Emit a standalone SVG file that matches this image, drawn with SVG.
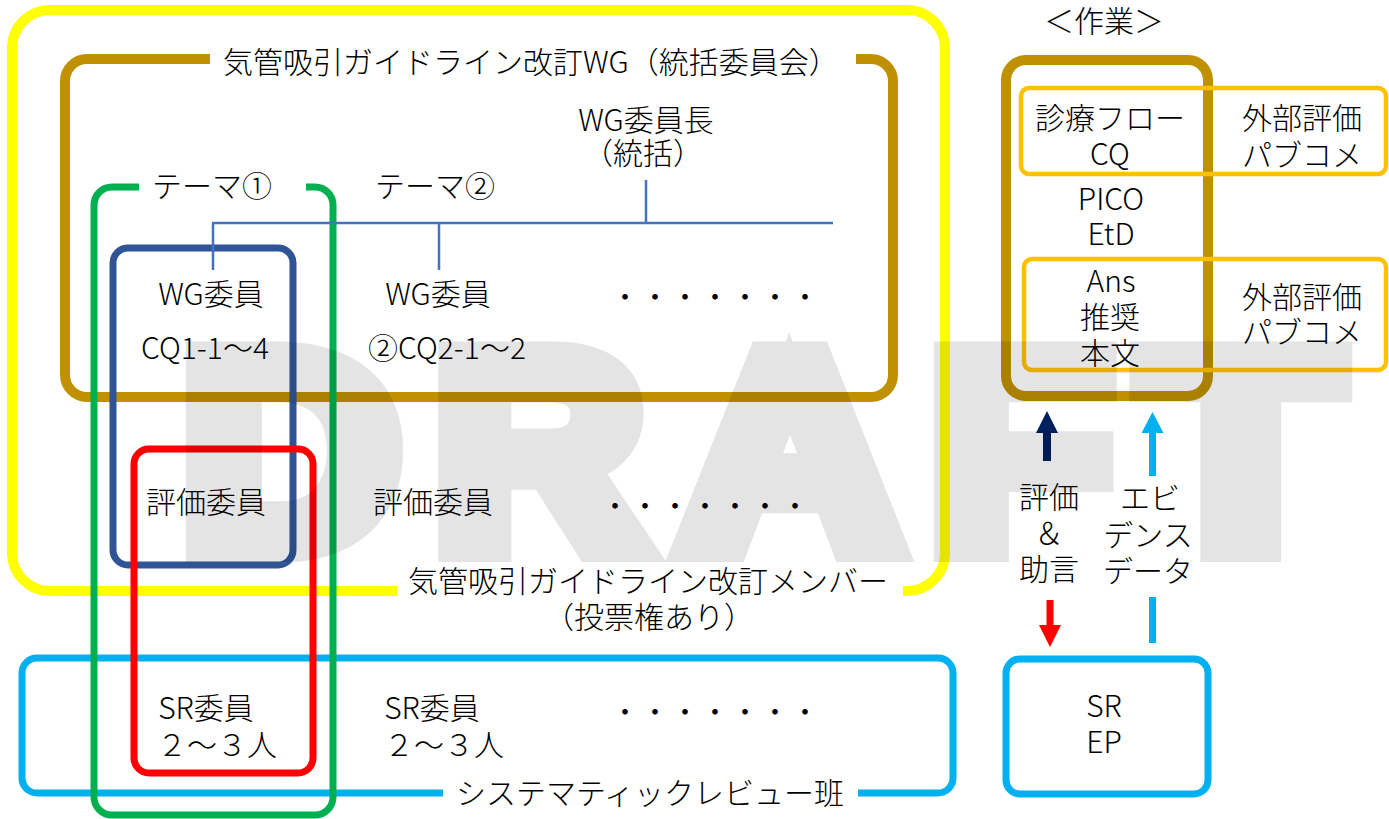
<svg xmlns="http://www.w3.org/2000/svg" width="1389" height="819" viewBox="0 0 1389 819">
<style>
.f{fill:none;stroke-linejoin:round}
.y{stroke:#ffff00;stroke-width:10}
.g{stroke:#bf9000;stroke-width:10}
.gr{stroke:#00b050;stroke-width:7}
.db{stroke:#2f5597;stroke-width:7}
.rd{stroke:#ff0000;stroke-width:7}
.lb{stroke:#00b0f0;stroke-width:7}
.or{stroke:#ffc000;stroke-width:4.5}
.ln{stroke:#4472c4;stroke-width:2.5;fill:none}
text{font-family:'Noto Sans CJK JP','Noto Sans',sans-serif;font-size:30px;fill:#000;font-weight:300}
.m{text-anchor:middle}
.wm{font-family:'Liberation Sans',Arial,sans-serif;font-weight:700;font-size:277px;fill:#000;stroke:#000;stroke-width:30;stroke-linejoin:miter}
</style>
<rect width="1389" height="819" fill="#fff"/>

<g id="members">
<path class="f y" d="M397,591 H50 A38,38 0 0 1 12,553 V48 A38,38 0 0 1 50,10 H907 A38,38 0 0 1 945,48 V553 A38,38 0 0 1 907,591 H903"/>
</g>
<g id="wg">
<path class="f g" d="M210,59 H87 A22,22 0 0 0 65,81 V375 A22,22 0 0 0 87,397 H871 A22,22 0 0 0 893,375 V81 A22,22 0 0 0 871,59 H856"/>
</g>
<g id="sr-team">
<path class="f lb" d="M443,793 H37 A15,15 0 0 1 22,778 V673 A15,15 0 0 1 37,658 H938 A15,15 0 0 1 953,673 V778 A15,15 0 0 1 938,793 H858"/>
</g>
<g id="theme1">
<path class="f gr" d="M139,187 H112 A18,18 0 0 0 94,205 V797 A18,18 0 0 0 112,815 H315 A18,18 0 0 0 333,797 V205 A18,18 0 0 0 315,187 H306"/>
</g>
<g id="wg-member1">
<rect class="f db" x="113" y="248" width="180" height="317" rx="15"/>
</g>
<g id="eval-sr1">
<rect class="f rd" x="134" y="449" width="179" height="324" rx="15"/>
</g>
<g id="work">
<rect class="f g" x="1006" y="60" width="202" height="336" rx="20"/>
</g>
<g id="ext1">
<rect class="f or" x="1021" y="88" width="365" height="86" rx="8"/>
</g>
<g id="ext2">
<rect class="f or" x="1024" y="259" width="362" height="111" rx="8"/>
</g>
<g id="srep">
<rect class="f lb" x="1006" y="659" width="202" height="135" rx="14"/>
</g>

<g id="connectors">
<path class="ln" d="M646,180 V223 M212,223 H833 M213,223 V270 M439,223 V270"/>
<path fill="#002060" d="M1043,461 V433 H1036 L1047,411 L1058,433 H1051 V461 Z"/>
<path fill="#00b0f0" d="M1149,476 V433 H1141.5 L1152.5,412 L1163.5,433 H1156 V476 Z"/>
<rect x="1149" y="597" width="7" height="46" fill="#00b0f0"/>
<path fill="#ff0000" d="M1046.5,600 V625 H1039 L1050,647 L1061,625 H1053.5 V600 Z"/>
</g>

<g id="watermark" opacity="0.1">
<text class="wm" transform="translate(182,547) scale(1.087,1)">D</text>
<text class="wm" transform="translate(434.5,547) scale(1.046,1)">R</text>
<text class="wm" transform="translate(681,547) scale(1.09,1)">A</text>
<text class="wm" transform="translate(930,547) scale(1.073,1)">F</text>
<text class="wm" transform="translate(1143,547) scale(1.155,1)">T</text>
</g>

<g id="labels">
<text class="m" x="1104" y="32">＜作業＞</text>
<text x="223" y="73">気管吸引ガイドライン改訂WG（統括委員会）</text>
<text class="m" x="646" y="131">WG委員長</text>
<text class="m" x="643" y="164">（統括）</text>
<text class="m" x="212" y="197">テーマ①</text>
<text class="m" x="435" y="197">テーマ②</text>
<text class="m" x="211" y="305">WG委員</text>
<text class="m" x="438" y="305">WG委員</text>
<text class="m" x="205" y="359">CQ1-1～4</text>
<text class="m" x="447" y="359">②CQ2-1～2</text>
<text x="610" y="308">・・・・・・・</text>
<text class="m" x="206" y="513">評価委員</text>
<text class="m" x="433" y="513">評価委員</text>
<text x="600" y="517">・・・・・・・</text>
<text class="m" x="648" y="592">気管吸引ガイドライン改訂メンバー</text>
<text class="m" x="649" y="628">（投票権あり）</text>
<text class="m" x="206" y="719">SR委員</text>
<text class="m" x="217" y="756">２～３人</text>
<text class="m" x="432" y="719">SR委員</text>
<text class="m" x="444" y="756">２～３人</text>
<text x="610" y="723">・・・・・・・</text>
<text class="m" x="650" y="804">システマティックレビュー班</text>
<text class="m" x="1110" y="129">診療フロー</text>
<text class="m" x="1110" y="165">CQ</text>
<text class="m" x="1302" y="129">外部評価</text>
<text class="m" x="1302" y="166">パブコメ</text>
<text class="m" x="1111" y="210">PICO</text>
<text class="m" x="1111" y="245">EtD</text>
<text class="m" x="1111" y="292">Ans</text>
<text class="m" x="1110" y="328">推奨</text>
<text class="m" x="1110" y="364">本文</text>
<text class="m" x="1302" y="308">外部評価</text>
<text class="m" x="1302" y="343">パブコメ</text>
<text class="m" x="1049" y="508">評価</text>
<text class="m" x="1049" y="544">＆</text>
<text class="m" x="1049" y="580">助言</text>
<text class="m" x="1150" y="509">エビ</text>
<text class="m" x="1148" y="546">デンス</text>
<text class="m" x="1148" y="582">データ</text>
<text class="m" x="1104" y="717">SR</text>
<text class="m" x="1104" y="753">EP</text>
</g>
</svg>
